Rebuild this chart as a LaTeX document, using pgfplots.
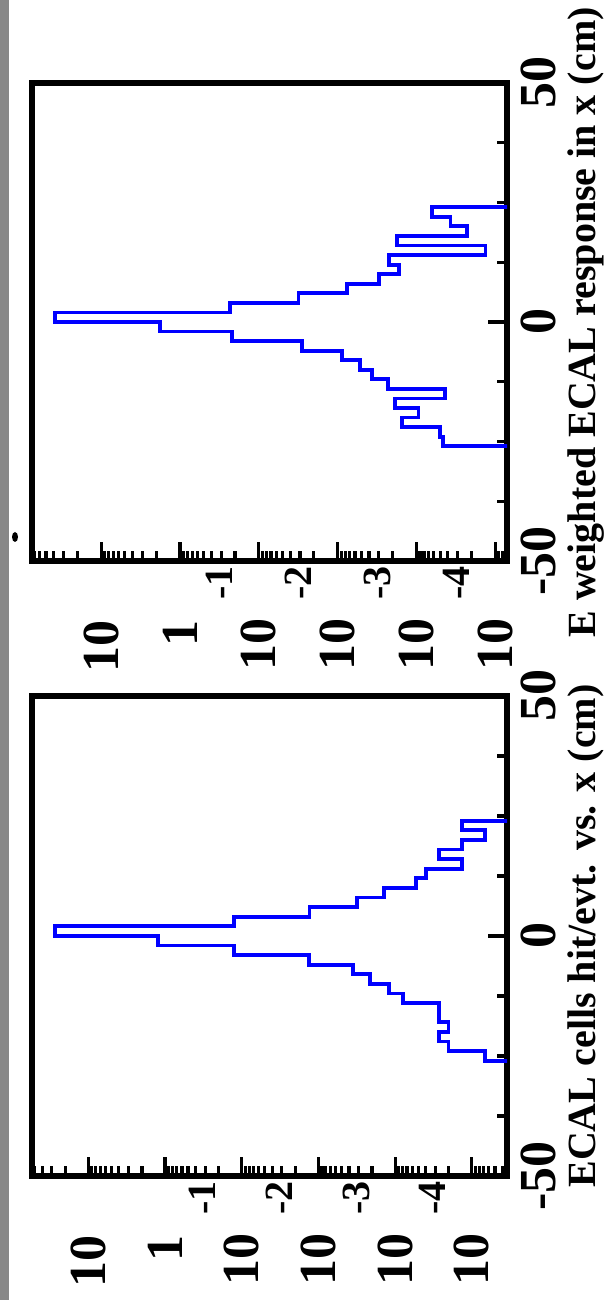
\documentclass[border=0pt]{standalone}
\usepackage{fontspec}
\setmainfont{Liberation Serif}
\usepackage{pgfplots}
\pgfplotsset{compat=1.18}
\definecolor{histblue}{RGB}{0,0,255}
\definecolor{stripgray}{RGB}{136,136,136}
% power-of-ten label: exponent set high and kept out of the label's box
\newcommand{\ex}[1]{10\kern9.5pt\raisebox{21.5pt}[0pt][0pt]{\fontsize{20}{20}\selectfont #1}}
\newcommand{\pl}[1]{#1\kern27pt}

\begin{document}
\begin{tikzpicture}
\fill[stripgray] (0,0) rectangle (4.5pt,650pt);
\fill[black] (7.5pt,381.5pt) ellipse (1.5pt and 2.5pt);

% upper panel: E weighted ECAL response
\begin{axis}[
    scale only axis, width=237.5pt, height=239pt,
    at={(16pt,369.5pt)}, anchor=south west,
    xmode=log, x dir=reverse,
    xmin=7.08e-5, xmax=75.5, ymin=-50, ymax=50,
    axis line style={line width=2.6pt},
    tick style={black, line width=1.6pt},
    major tick length=9.5pt, minor tick length=5pt,
    xtick pos=left, ytick pos=right, yticklabel pos=right,
    ytick={-50,0,50}, yticklabels={-50,0,50},
    minor ytick={-37.5,-25,-12.5,12.5,25,37.5},
    xtick={10,1,0.1,0.01,0.001,0.0001},
    xticklabels={\pl{10},\pl{1},\ex{-1},\ex{-2},\ex{-3},\ex{-4}},
    minor xtick={8e-5,9e-5,2e-4,3e-4,4e-4,5e-4,6e-4,7e-4,8e-4,9e-4,
      2e-3,3e-3,4e-3,5e-3,6e-3,7e-3,8e-3,9e-3,
      0.02,0.03,0.04,0.05,0.06,0.07,0.08,0.09,
      0.2,0.3,0.4,0.5,0.6,0.7,0.8,0.9,
      2,3,4,5,6,7,8,9,20,30,40,50,60,70},
    tick label style={font=\fontsize{26}{26}\selectfont\bfseries},
    xticklabel style={rotate=90, anchor=east, inner sep=0pt},
    yticklabel style={rotate=90, anchor=north, inner sep=0pt},
    xticklabel shift=2.5pt, yticklabel shift=7pt,
  ]
\addplot[const plot mark right, histblue, line width=1.9pt, no marks, line join=miter] coordinates {
  (1e-6,-26) (4.6e-4,-26) (5.0e-4,-24) (1.52e-3,-22) (9.4e-4,-20)
  (1.85e-3,-18) (4.3e-4,-16) (2.3e-3,-14) (3.7e-3,-12) (5.2e-3,-10)
  (8.8e-3,-8) (0.0284,-6) (0.22,-4) (1.79,-2) (38.7,0)
  (0.232,2) (0.0314,4) (7.6e-3,6) (3.0e-3,8) (1.65e-3,10)
  (2.25e-3,12) (1.33e-4,14) (1.77e-3,16) (2.3e-4,18) (3.7e-4,20)
  (6.3e-4,22) (1e-6,24)
};
\end{axis}

% lower panel: ECAL cells hit per event
\begin{axis}[
    scale only axis, width=237.5pt, height=240pt,
    at={(16pt,62pt)}, anchor=south west,
    xmode=log, x dir=reverse,
    xmin=3.48e-5, xmax=54.2, ymin=-50, ymax=50,
    axis line style={line width=2.6pt},
    tick style={black, line width=1.6pt},
    major tick length=9.5pt, minor tick length=5pt,
    xtick pos=left, ytick pos=right, yticklabel pos=right,
    ytick={-50,0,50}, yticklabels={-50,0,50},
    minor ytick={-37.5,-25,-12.5,12.5,25,37.5},
    xtick={10,1,0.1,0.01,0.001,0.0001},
    xticklabels={\pl{10},\pl{1},\ex{-1},\ex{-2},\ex{-3},\ex{-4}},
    minor xtick={4e-5,5e-5,6e-5,7e-5,8e-5,9e-5,
      2e-4,3e-4,4e-4,5e-4,6e-4,7e-4,8e-4,9e-4,
      2e-3,3e-3,4e-3,5e-3,6e-3,7e-3,8e-3,9e-3,
      0.02,0.03,0.04,0.05,0.06,0.07,0.08,0.09,
      0.2,0.3,0.4,0.5,0.6,0.7,0.8,0.9,
      2,3,4,5,6,7,8,9,20,30,40,50},
    tick label style={font=\fontsize{26}{26}\selectfont\bfseries},
    xticklabel style={rotate=90, anchor=east, inner sep=0pt},
    yticklabel style={rotate=90, anchor=north, inner sep=0pt},
    xticklabel shift=2.5pt, yticklabel shift=7pt,
  ]
\addplot[const plot mark right, histblue, line width=1.9pt, no marks, line join=miter] coordinates {
  (1e-6,-26) (6.7e-5,-26) (2.02e-4,-24) (2.65e-4,-22) (2.02e-4,-20)
  (2.65e-4,-18) (2.65e-4,-16) (7.96e-4,-14) (1.19e-3,-12) (2.12e-3,-10)
  (3.57e-3,-8) (0.0133,-6) (0.126,-4) (1.245,-2) (27.2,0)
  (0.126,2) (0.0131,4) (3.17e-3,6) (1.4e-3,8) (5.4e-4,10)
  (4.0e-4,12) (1.33e-4,14) (2.65e-4,16) (1.33e-4,18) (6.7e-5,20)
  (1.33e-4,22) (1e-6,24)
};
\end{axis}

\node[rotate=90, anchor=north, inner sep=0pt,
  font=\fontsize{20}{20}\selectfont\bfseries] at (283.5pt,488.75pt)
  {E weighted ECAL response in x (cm)};
\node[rotate=90, anchor=north, inner sep=0pt,
  font=\fontsize{20}{20}\selectfont\bfseries] at (283.5pt,182pt)
  {ECAL cells hit/evt. vs. x (cm)};

\pgfresetboundingbox
\path[use as bounding box] (0,0) rectangle (302.5pt,650pt);
\end{tikzpicture}
\end{document}
